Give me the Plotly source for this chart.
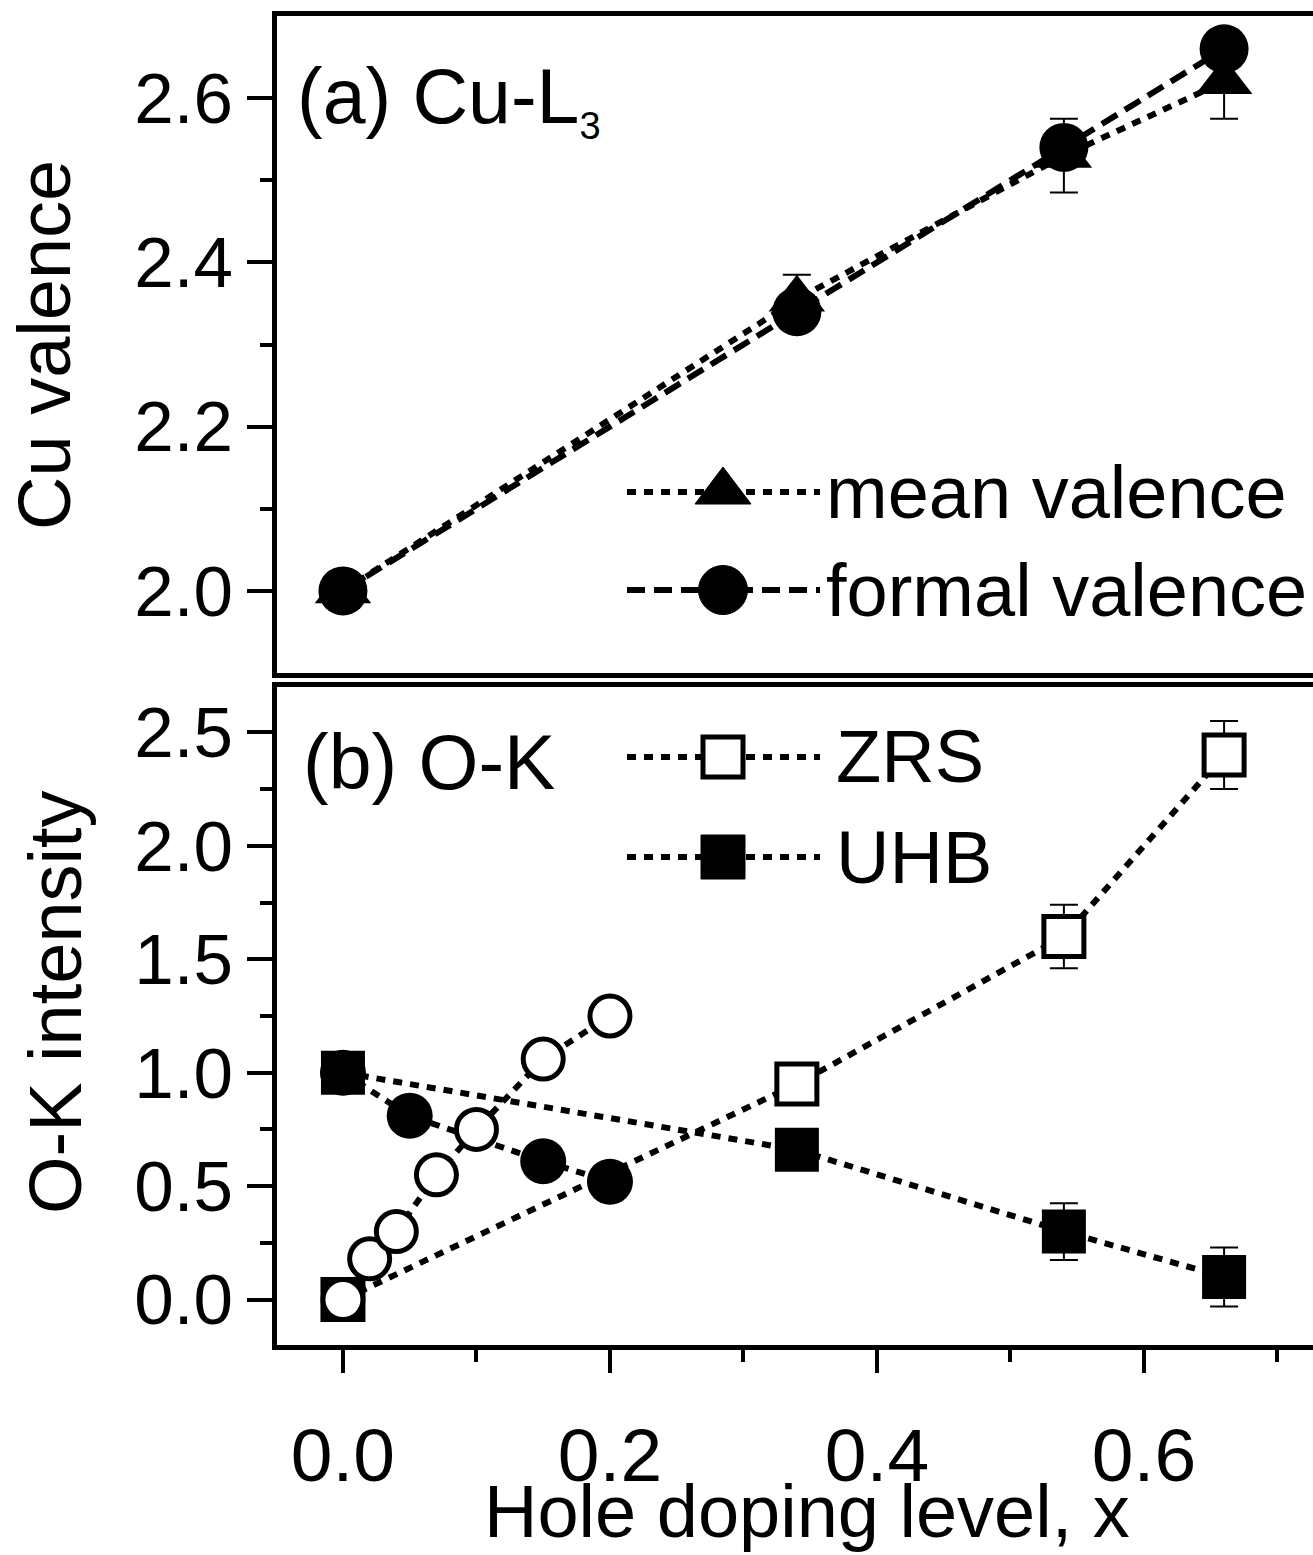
import plotly.graph_objects as go

# ---------------- data ----------------
x_cu = [0.0, 0.34, 0.54, 0.66]
mean_valence = [2.0, 2.355, 2.53, 2.62]
mean_valence_err = [0.0, 0.03, 0.045, 0.045]
formal_valence = [2.0, 2.34, 2.54, 2.66]

x_ok = [0.0, 0.34, 0.54, 0.66]
zrs = [0.0, 0.95, 1.60, 2.40]
zrs_err = [0.0, 0.0, 0.14, 0.15]
uhb = [1.0, 0.66, 0.30, 0.10]
uhb_err = [0.0, 0.0, 0.125, 0.13]

x_fill = [0.0, 0.05, 0.15, 0.20]
fill_circles = [1.0, 0.81, 0.61, 0.52]
x_open = [0.0, 0.02, 0.04, 0.07, 0.10, 0.15, 0.20]
open_circles = [0.0, 0.18, 0.30, 0.55, 0.75, 1.06, 1.25]

x_ticks = [0.0, 0.2, 0.4, 0.6]
x_ticklabels = ["0.0", "0.2", "0.4", "0.6"]
y1_ticks = [2.0, 2.2, 2.4, 2.6]
y1_ticklabels = ["2.0", "2.2", "2.4", "2.6"]
y2_ticks = [0.0, 0.5, 1.0, 1.5, 2.0, 2.5]
y2_ticklabels = ["0.0", "0.5", "1.0", "1.5", "2.0", "2.5"]

# ---------------- layout geometry ----------------
W, H = 1313, 1555
L, R, T, B = 277, 0, 16, 210
PW = W - L - R
PH = H - T - B
TOP_BOTTOM_PX = 673
BOT_TOP_PX = 687


def px_x(p):
    return (p - L) / PW


def px_y(p):
    return (T + PH - p) / PH


FONT = "Liberation Sans, Arial, Helvetica, sans-serif"
DOT = "9px,8px"
DASH = "18px,9px"
LW = 6
F_YTICK = 71
F_XTICK = 75
F_TITLE = 74
F_LEG = 74
F_PANEL = 77

fig = go.Figure()

# ---------- panel (a) ----------
fig.add_trace(go.Scatter(
    x=x_cu, y=mean_valence, mode="lines+markers", name="mean valence",
    line=dict(color="black", width=LW, dash=DOT),
    marker=dict(symbol="triangle-up", size=49, color="black"),
    error_y=dict(type="data", array=mean_valence_err, width=14, thickness=2, color="black"),
    xaxis="x", yaxis="y", showlegend=False))
fig.add_trace(go.Scatter(
    x=x_cu, y=formal_valence, mode="lines+markers", name="formal valence",
    line=dict(color="black", width=LW, dash=DASH),
    marker=dict(symbol="circle", size=49, color="black"),
    xaxis="x", yaxis="y", showlegend=False))

# ---------- panel (b) ----------
fig.add_trace(go.Scatter(
    x=x_fill, y=fill_circles, mode="lines+markers",
    line=dict(color="black", width=LW, dash=DOT),
    marker=dict(symbol="circle", size=46, color="black"),
    xaxis="x2", yaxis="y2", showlegend=False))
fig.add_trace(go.Scatter(
    x=x_ok, y=zrs, mode="lines+markers", name="ZRS",
    line=dict(color="black", width=LW, dash=DOT),
    marker=dict(symbol="square", size=40, color=["black", "white", "white", "white"],
                line=dict(color="black", width=5)),
    error_y=dict(type="data", array=zrs_err, width=14, thickness=2, color="black"),
    xaxis="x2", yaxis="y2", showlegend=False))
fig.add_trace(go.Scatter(
    x=x_ok, y=uhb, mode="lines+markers", name="UHB",
    line=dict(color="black", width=LW, dash=DOT),
    marker=dict(symbol="square", size=44, color="black"),
    error_y=dict(type="data", array=uhb_err, width=14, thickness=2, color="black"),
    xaxis="x2", yaxis="y2", showlegend=False))
fig.add_trace(go.Scatter(
    x=x_open, y=open_circles, mode="lines+markers",
    line=dict(color="black", width=LW, dash=DOT),
    marker=dict(symbol="circle", size=40, color="white", line=dict(color="black", width=5)),
    xaxis="x2", yaxis="y2", showlegend=False))

ytickfont = dict(family=FONT, size=F_YTICK, color="black")
xtickfont = dict(family=FONT, size=F_XTICK, color="black")
axis_common = dict(showline=True, linecolor="black", linewidth=4.5, showgrid=False,
                   zeroline=False)

fig.update_layout(
    width=W, height=H,
    margin=dict(l=L, r=R, t=T, b=B, pad=0),
    paper_bgcolor="white", plot_bgcolor="white",
    font=dict(family=FONT, color="black"),
    xaxis=dict(**axis_common, domain=[0, 1], range=[-0.0494, 0.7266], anchor="y",
               mirror=True, ticks="", showticklabels=False, matches="x2"),
    yaxis=dict(**axis_common, domain=[px_y(TOP_BOTTOM_PX), 1.0], range=[1.9, 2.7],
               anchor="x", tickmode="array", tickvals=y1_ticks, ticktext=y1_ticklabels,
               ticks="outside", ticklen=25, tickwidth=4, tickcolor="black",
               tickfont=ytickfont, ticklabelstandoff=0,
               minor=dict(tickmode="array", tickvals=[2.1, 2.3, 2.5], ticks="outside",
                          ticklen=12, tickwidth=4, tickcolor="black")),
    xaxis2=dict(**axis_common, domain=[0, 1], range=[-0.0494, 0.7266], anchor="y2",
                mirror=True, tickmode="array", tickvals=x_ticks, ticktext=x_ticklabels,
                ticks="outside", ticklen=23, tickwidth=4, tickcolor="black",
                tickfont=xtickfont, ticklabelstandoff=18,
                minor=dict(tickmode="array", tickvals=[0.1, 0.3, 0.5, 0.7], ticks="outside",
                           ticklen=12, tickwidth=4, tickcolor="black")),
    yaxis2=dict(**axis_common, domain=[0, px_y(BOT_TOP_PX)], range=[-0.2, 2.7],
                anchor="x2", tickmode="array", tickvals=y2_ticks, ticktext=y2_ticklabels,
                ticks="outside", ticklen=25, tickwidth=4, tickcolor="black",
                tickfont=ytickfont, ticklabelstandoff=0,
                minor=dict(tickmode="array", tickvals=[0.25, 0.75, 1.25, 1.75, 2.25],
                           ticks="outside", ticklen=12, tickwidth=4, tickcolor="black")),
)

# ---------- text annotations ----------
ann = []
ann.append(dict(text="Cu valence", x=px_x(44), y=px_y(345), xref="paper", yref="paper",
                textangle=-90, showarrow=False, xanchor="center", yanchor="middle",
                font=dict(family=FONT, size=F_TITLE, color="black")))
ann.append(dict(text="O-K intensity", x=px_x(55), y=px_y(1002), xref="paper", yref="paper",
                textangle=-90, showarrow=False, xanchor="center", yanchor="middle",
                font=dict(family=FONT, size=F_TITLE, color="black")))
ann.append(dict(text="Hole doping level, x", x=px_x(807), y=px_y(1511), xref="paper",
                yref="paper", showarrow=False, xanchor="center", yanchor="middle",
                font=dict(family=FONT, size=F_TITLE, color="black")))
ann.append(dict(text="(a) Cu-L<sub><span style='font-size:38px'>3</span></sub>",
                x=px_x(295), y=px_y(100), xref="paper",
                yref="paper", showarrow=False, xanchor="left", yanchor="middle",
                font=dict(family=FONT, size=F_PANEL, color="black")))
ann.append(dict(text="(b) O-K", x=px_x(301), y=px_y(762), xref="paper",
                yref="paper", showarrow=False, xanchor="left", yanchor="middle",
                font=dict(family=FONT, size=F_PANEL, color="black")))

# ---------- manual legends ----------
legend_rows = [
    # (label, y_px, dash, symbol, text_x)
    ("mean valence", 492, DOT, "triangle", 824),
    ("formal valence", 590, DASH, "circle", 824),
    ("ZRS", 757, DOT, "open_square", 834),
    ("UHB", 857, DOT, "square", 834),
]
shapes = []
for label, ypx, dash, sym, tx in legend_rows:
    shapes.append(dict(type="line", xref="paper", yref="paper",
                       x0=px_x(627), x1=px_x(820), y0=px_y(ypx), y1=px_y(ypx),
                       line=dict(color="black", width=LW, dash=dash)))
    common = dict(xref="paper", yref="paper", xsizemode="pixel", ysizemode="pixel",
                  xanchor=px_x(723), yanchor=px_y(ypx))
    if sym == "triangle":
        shapes.append(dict(type="path", path="M -28,-12 L 28,-12 L 0,25 Z",
                           fillcolor="black", line=dict(color="black", width=1), **common))
    elif sym == "circle":
        shapes.append(dict(type="circle", x0=-24.5, x1=24.5, y0=-24.5, y1=24.5,
                           fillcolor="black", line=dict(color="black", width=1), **common))
    elif sym == "open_square":
        shapes.append(dict(type="rect", x0=-20, x1=20, y0=-20, y1=20,
                           fillcolor="white", line=dict(color="black", width=5), **common))
    elif sym == "square":
        shapes.append(dict(type="rect", x0=-22, x1=22, y0=-22, y1=22,
                           fillcolor="black", line=dict(color="black", width=1), **common))
    ann.append(dict(text=label, x=px_x(tx), y=px_y(ypx), xref="paper", yref="paper",
                    showarrow=False, xanchor="left", yanchor="middle",
                    font=dict(family=FONT, size=F_LEG, color="black")))

fig.update_layout(annotations=ann, shapes=shapes)

fig.write_html("out.html")
